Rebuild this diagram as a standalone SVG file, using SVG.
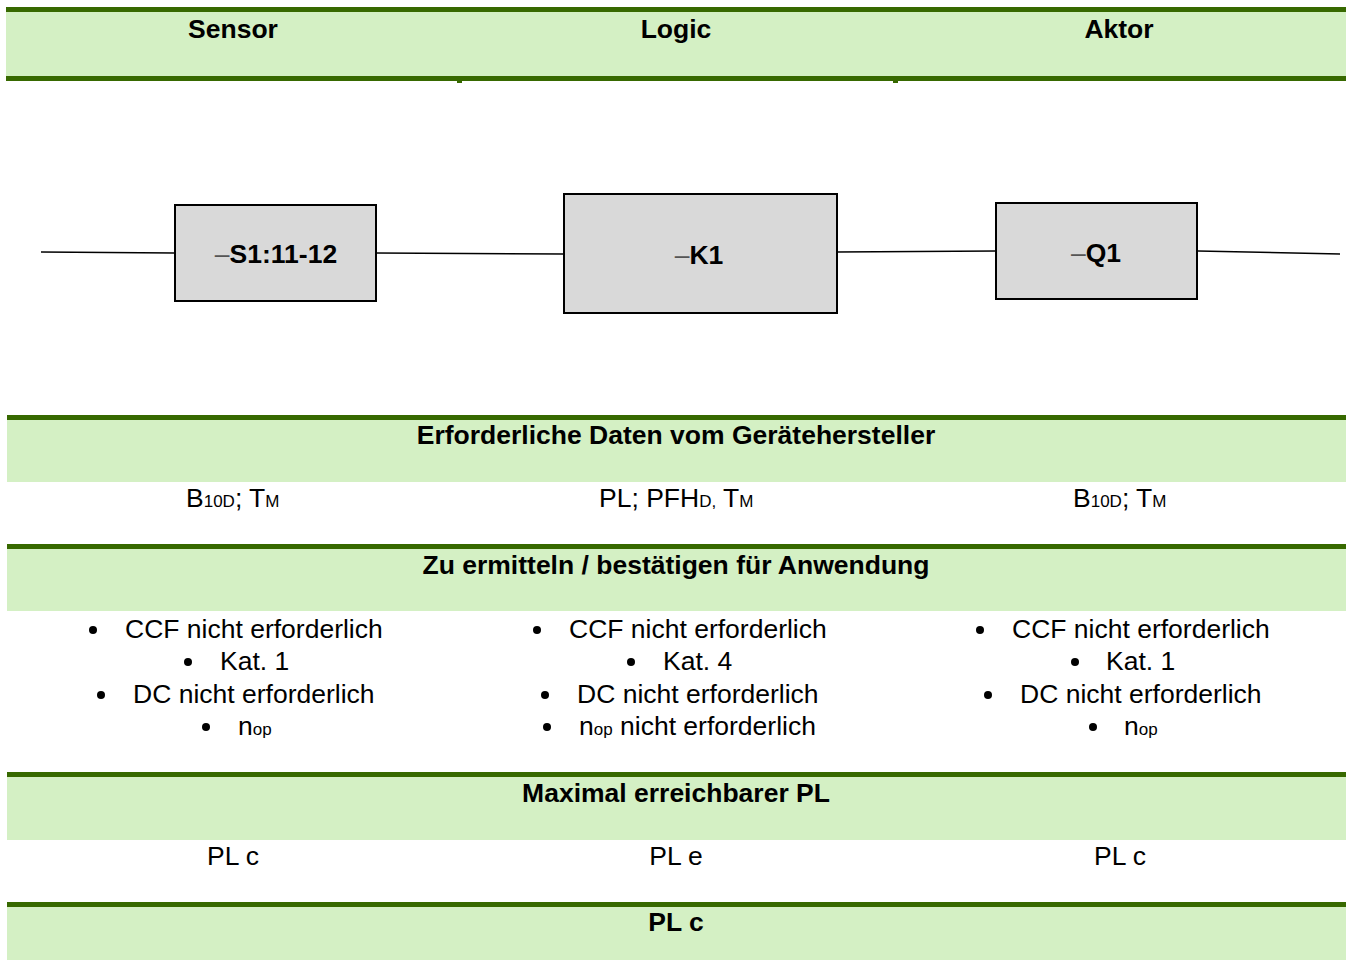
<svg xmlns="http://www.w3.org/2000/svg" width="1348" height="960" viewBox="0 0 1348 960">
<style>
.band{fill:#d4f0c4}
.rule{fill:#376900}
.t{font-family:"Liberation Sans",Arial,sans-serif;font-size:26.5px;fill:#000}
.b{font-weight:bold}
.c{text-anchor:middle}
.sub{font-size:17px}
.box{fill:#d9d9d9;stroke:#000;stroke-width:2}
.wire{stroke:#000;stroke-width:1.6;fill:none}
.dash{font-weight:normal;fill:#555}
.dot{fill:#000}
</style>
<defs><circle id="bul" class="dot" r="4"/></defs>
<rect width="1348" height="960" fill="#fff"/>
<g id="bands">
<rect class="band" x="6" y="12" width="1340" height="64"/>
<rect class="rule" x="6" y="7" width="1340" height="5"/>
<rect class="rule" x="6" y="76" width="1340" height="5"/>
<rect class="rule" x="457" y="81" width="5" height="2"/>
<rect class="rule" x="893" y="81" width="5" height="2"/>
<rect class="band" x="7" y="420" width="1339" height="62"/>
<rect class="rule" x="7" y="415" width="1339" height="5"/>
<rect class="band" x="7" y="549" width="1339" height="62"/>
<rect class="rule" x="7" y="544" width="1339" height="5"/>
<rect class="band" x="7" y="777" width="1339" height="63"/>
<rect class="rule" x="7" y="772" width="1339" height="5"/>
<rect class="band" x="7" y="907" width="1339" height="53"/>
<rect class="rule" x="7" y="902" width="1339" height="5"/>
</g>
<g id="headers">
<text class="t b c" x="233" y="38">Sensor</text>
<text class="t b c" x="676" y="38">Logic</text>
<text class="t b c" x="1119" y="38">Aktor</text>
</g>
<g id="connectors">
<line class="wire" x1="41" y1="252" x2="174" y2="253"/>
<line class="wire" x1="376" y1="253" x2="564" y2="254"/>
<line class="wire" x1="837" y1="252" x2="996" y2="251"/>
<line class="wire" x1="1198" y1="251" x2="1340" y2="254"/>
</g>
<g id="S1">
<rect class="box" x="175" y="205" width="201" height="96"/>
<text class="t b c" x="276" y="263"><tspan class="dash">–</tspan>S1:11-12</text>
</g>
<g id="K1">
<rect class="box" x="564" y="194" width="273" height="119"/>
<text class="t b c" x="699" y="264"><tspan class="dash">–</tspan>K1</text>
</g>
<g id="Q1">
<rect class="box" x="996" y="203" width="201" height="96"/>
<text class="t b c" x="1096" y="262"><tspan class="dash">–</tspan>Q1</text>
</g>
<g id="section-daten">
<text class="t b c" x="676" y="444">Erforderliche Daten vom Gerätehersteller</text>
<text class="t" x="186" y="507">B<tspan class="sub">10D</tspan>; T<tspan class="sub">M</tspan></text>
<text class="t" x="599" y="507">PL; PFH<tspan class="sub">D,</tspan> T<tspan class="sub">M</tspan></text>
<text class="t" x="1073" y="507">B<tspan class="sub">10D</tspan>; T<tspan class="sub">M</tspan></text>
</g>
<g id="section-ermitteln">
<text class="t b c" x="676" y="574">Zu ermitteln / bestätigen für Anwendung</text>
<g id="col-sensor">
<use href="#bul" x="93" y="630"/><text class="t" x="125" y="638">CCF nicht erforderlich</text>
<use href="#bul" x="188" y="662"/><text class="t" x="220" y="670">Kat. 1</text>
<use href="#bul" x="101" y="695"/><text class="t" x="133" y="703">DC nicht erforderlich</text>
<use href="#bul" x="206" y="727"/><text class="t" x="238" y="735">n<tspan class="sub">op</tspan></text>
</g>
<g id="col-logic">
<use href="#bul" x="537" y="630"/><text class="t" x="569" y="638">CCF nicht erforderlich</text>
<use href="#bul" x="631" y="662"/><text class="t" x="663" y="670">Kat. 4</text>
<use href="#bul" x="545" y="695"/><text class="t" x="577" y="703">DC nicht erforderlich</text>
<use href="#bul" x="547" y="727"/><text class="t" x="579" y="735">n<tspan class="sub">op</tspan> nicht erforderlich</text>
</g>
<g id="col-aktor">
<use href="#bul" x="980" y="630"/><text class="t" x="1012" y="638">CCF nicht erforderlich</text>
<use href="#bul" x="1075" y="662"/><text class="t" x="1106" y="670">Kat. 1</text>
<use href="#bul" x="988" y="695"/><text class="t" x="1020" y="703">DC nicht erforderlich</text>
<use href="#bul" x="1093" y="727"/><text class="t" x="1124" y="735">n<tspan class="sub">op</tspan></text>
</g>
</g>
<g id="section-maximal">
<text class="t b c" x="676" y="802">Maximal erreichbarer PL</text>
<text class="t c" x="233" y="865">PL c</text>
<text class="t c" x="676" y="865">PL e</text>
<text class="t c" x="1120" y="865">PL c</text>
</g>
<g id="section-result">
<text class="t b c" x="676" y="931">PL c</text>
</g>
</svg>
